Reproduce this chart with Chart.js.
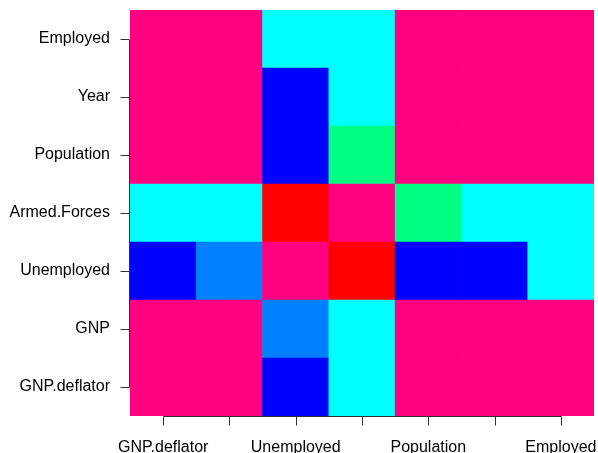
<!DOCTYPE html>
<html>
<head>
<meta charset="utf-8">
<script src="https://cdn.jsdelivr.net/npm/chart.js@4"></script>
<style>
  html, body { margin: 0; padding: 0; background: #ffffff; }
  #wrap { width: 598px; height: 453px; }
</style>
</head>
<body>
<div id="wrap"><canvas id="c" width="598" height="453"></canvas></div>
<script>
// Variables of the longley data set (columns left to right, rows bottom to top)
const variables = ['GNP.deflator', 'GNP', 'Unemployed', 'Armed.Forces', 'Population', 'Year', 'Employed'];

// Colour class of each cell (0 = lowest correlation band ... 5 = highest band)
const rowGNPdeflator = [5, 5, 4, 2, 5, 5, 5];
const rowGNP         = [5, 5, 3, 2, 5, 5, 5];
const rowUnemployed  = [4, 3, 5, 0, 4, 4, 2];
const rowArmedForces = [2, 2, 0, 5, 1, 2, 2];
const rowPopulation  = [5, 5, 4, 1, 5, 5, 5];
const rowYear        = [5, 5, 4, 2, 5, 5, 5];
const rowEmployed    = [5, 5, 2, 2, 5, 5, 5];

const rows = [rowGNPdeflator, rowGNP, rowUnemployed, rowArmedForces, rowPopulation, rowYear, rowEmployed];

// Band colours, low to high
const palette = ['#FF0000', '#00FF80', '#00FFFF', '#0080FF', '#0000FF', '#FF0080'];

const datasets = rows.map((r, i) => ({
  label: variables[i],
  data: r.map(() => 1),
  backgroundColor: r.map(k => palette[k]),
  borderWidth: 0,
  categoryPercentage: 1.0,
  barPercentage: 1.0,
  stack: 's'
}));

// R-style axes: tick marks and an axis line spanning first to last tick
const rAxes = {
  id: 'rAxes',
  afterDraw(chart) {
    const ctx = chart.ctx;
    const xs = chart.scales.x, ys = chart.scales.y;
    const area = chart.chartArea;
    ctx.save();
    ctx.strokeStyle = '#333333';
    ctx.lineWidth = 1;
    // x axis
    const x0 = Math.round(xs.getPixelForTick(0)) + 0.5;
    const x1 = Math.round(xs.getPixelForTick(variables.length - 1)) + 0.5;
    const yb = Math.round(area.bottom) + 0.5;
    ctx.beginPath();
    ctx.moveTo(x0, yb); ctx.lineTo(x1, yb);
    for (let i = 0; i < variables.length; i++) {
      const px = Math.round(xs.getPixelForTick(i)) + 0.5;
      ctx.moveTo(px, yb); ctx.lineTo(px, yb + 9);
    }
    ctx.stroke();
    // y axis
    const xl = Math.round(area.left) - 0.5;
    const ya = Math.round(ys.getPixelForValue(0.5)) + 0.5;
    const yz = Math.round(ys.getPixelForValue(variables.length - 0.5)) + 0.5;
    ctx.beginPath();
    ctx.moveTo(xl, ya); ctx.lineTo(xl, yz);
    for (let i = 0; i < variables.length; i++) {
      const py = Math.round(ys.getPixelForValue(i + 0.5)) + 0.5;
      ctx.moveTo(xl, py); ctx.lineTo(xl - 9, py);
    }
    ctx.stroke();
    ctx.restore();
  }
};

new Chart(document.getElementById('c'), {
  type: 'bar',
  data: { labels: variables, datasets },
  options: {
    responsive: false,
    animation: false,
    layout: { padding: { left: 0, right: 4, top: 10, bottom: 0 } },
    plugins: { legend: { display: false }, tooltip: { enabled: false } },
    scales: {
      x: {
        stacked: true,
        grid: { display: false },
        border: { display: false },
        afterFit: s => {
          s.height = 37;
          s.paddingLeft = 0; s.paddingRight = 0;
        },
        ticks: {
          autoSkip: false,
          maxRotation: 0,
          padding: 14,
          color: '#000000',
          font: { family: 'Liberation Sans', size: 16 },
          callback: (v, i) => (i % 2 === 0 ? variables[i] : '')
        }
      },
      y: {
        stacked: true,
        min: 0,
        max: variables.length,
        grid: { display: false },
        border: { display: false },
        afterFit: s => {
          s.width = 130;
          s.paddingTop = 0; s.paddingBottom = 0;
        },
        afterBuildTicks: s => {
          s.ticks = variables.map((_, i) => ({ value: i + 0.5 }));
        },
        ticks: {
          padding: 12,
          color: '#000000',
          font: { family: 'Liberation Sans', size: 16 },
          callback: v => variables[Math.round(v - 0.5)]
        }
      }
    }
  },
  plugins: [rAxes]
});
</script>
</body>
</html>
